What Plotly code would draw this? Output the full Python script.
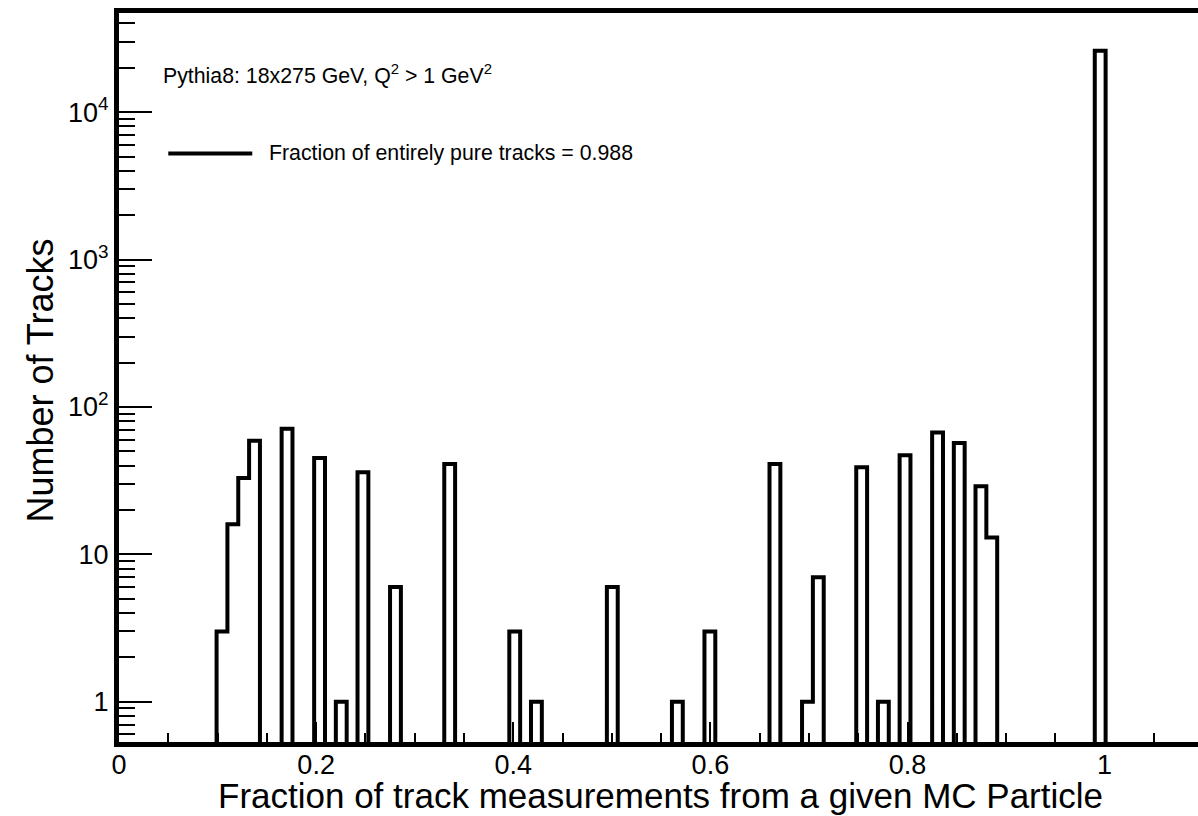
import numpy as np
import plotly.graph_objects as go

# Histogram binning: 100 bins over [0, 1.1]
n_bins = 100
x_low, x_high = 0.0, 1.1

# Non-empty bins (index) and their track counts
filled_bins = [9, 10, 11, 12, 15, 18, 20, 22, 25, 30, 36, 38, 45, 51, 54,
               60, 63, 64, 68, 70, 72, 75, 77, 79, 80, 90]
tracks = [3, 16, 33, 59, 71, 45, 1, 36, 6, 41, 3, 1, 6, 1, 3,
          41, 1, 7, 39, 1, 47, 67, 57, 29, 13, 26100]

y_tick_vals = [1, 10, 100, 1000, 10000]
y_tick_text = ["1", "10", "10<sup>2</sup>", "10<sup>3</sup>", "10<sup>4</sup>"]
x_tick_vals = [0, 0.2, 0.4, 0.6, 0.8, 1.0]
x_tick_text = ["0", "0.2", "0.4", "0.6", "0.8", "1"]

info_text = "Pythia8: 18x275 GeV, Q<sup>2</sup> > 1 GeV<sup>2</sup>"
legend_text = "Fraction of entirely pure tracks = 0.988"
x_title = "Fraction of track measurements from a given MC Particle"
y_title = "Number of Tracks"

# ---- build the step outline -------------------------------------------------
counts = np.zeros(n_bins)
counts[filled_bins] = tracks
edges = np.linspace(x_low, x_high, n_bins + 1)
y_min, y_max = 10 ** -0.2732, 10 ** 4.6725
floor = y_min / 10.0          # empty bins sit below the visible frame
step_y = np.where(counts > 0, counts, floor)
step_x = np.append(edges[:-1], edges[-1])
step_y = np.append(step_y, step_y[-1])

# ---- page geometry ----------------------------------------------------------
W, H = 1198, 816
L, R, T, B = 118.7, 1198.0, 12.5, 742.0
x_view_max = (R - L) / 985.9

def px(x):
    return (x - L) / (R - L)

def py(y):
    return (B - y) / (B - T)

FONT = "Liberation Sans, Arial, Helvetica, sans-serif"

fig = go.Figure()
fig.add_trace(go.Scatter(
    x=step_x, y=step_y, mode="lines", line_shape="hv",
    line=dict(color="black", width=4), showlegend=False, hoverinfo="skip",
))

minor_y = [m * 10.0 ** e for e in range(-1, 5) for m in range(2, 10)]
minor_y = [v for v in minor_y if y_min < v < y_max]

fig.update_layout(
    width=W, height=H,
    margin=dict(l=L, r=W - R, t=T, b=H - B, pad=0),
    paper_bgcolor="white", plot_bgcolor="white",
    font=dict(family=FONT, color="black"),
    xaxis=dict(
        range=[0, x_view_max], showgrid=False, zeroline=False,
        showline=True, linecolor="black", linewidth=5, mirror=True,
        ticks="inside", ticklen=20, tickwidth=2, tickcolor="black",
        tickmode="array", tickvals=x_tick_vals, ticktext=x_tick_text,
        tickfont=dict(size=27, family=FONT, color="black"),
        ticklabelstandoff=-5,
        minor=dict(dtick=0.05, tick0=0, ticks="inside", ticklen=9,
                   tickwidth=2, tickcolor="black", showgrid=False),
    ),
    yaxis=dict(
        type="log", range=[np.log10(y_min), np.log10(y_max)],
        showgrid=False, zeroline=False,
        showline=True, linecolor="black", linewidth=5, mirror=False,
        ticks="inside", ticklen=33, tickwidth=2, tickcolor="black",
        tickmode="array", tickvals=y_tick_vals, ticktext=y_tick_text,
        tickfont=dict(size=27, family=FONT, color="black"),
        minor=dict(tickmode="array", tickvals=minor_y, ticks="inside",
                   ticklen=16, tickwidth=2, tickcolor="black", showgrid=False),
    ),
)

# axis titles
fig.add_annotation(text=x_title, xref="paper", yref="paper",
                   x=px(660.5), y=py(796), xanchor="center", yanchor="middle",
                   showarrow=False, font=dict(size=35, family=FONT, color="black"))
fig.add_annotation(text=y_title, xref="paper", yref="paper",
                   x=px(40), y=py(380), xanchor="center", yanchor="middle",
                   textangle=-90, showarrow=False,
                   font=dict(size=36, family=FONT, color="black"))

# info text and legend entry
fig.add_annotation(text=info_text, xref="paper", yref="paper",
                   x=px(161), y=py(74), xanchor="left", yanchor="middle",
                   showarrow=False, font=dict(size=21.3, family=FONT, color="black"))
fig.add_shape(type="line", xref="paper", yref="paper",
              x0=px(168), x1=px(252), y0=py(153), y1=py(153),
              line=dict(color="black", width=4))
fig.add_annotation(text=legend_text, xref="paper", yref="paper",
                   x=px(267), y=py(153), xanchor="left", yanchor="middle",
                   showarrow=False, font=dict(size=21.3, family=FONT, color="black"))

fig.write_html("out.html")
